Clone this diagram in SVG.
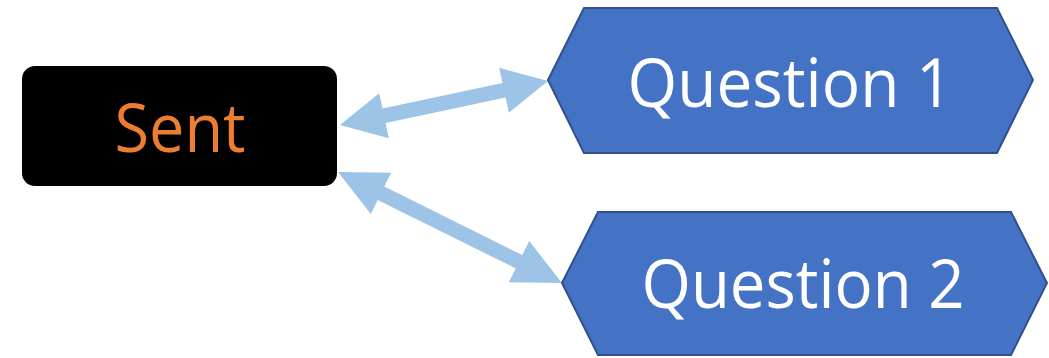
<svg xmlns="http://www.w3.org/2000/svg" width="1049" height="358" viewBox="0 0 1049 358">
<style>
.hex{fill:#4472C4;stroke:#2F528F;stroke-width:2}
.lbl{font-family:"Open Sans","Noto Sans","Liberation Sans",sans-serif;font-size:67px;text-anchor:middle}
.arrow{fill:#9DC3E6}
</style>
<rect width="1049" height="358" fill="#ffffff"/>
<g id="connectors">
<polygon class="arrow" points="340,125 388.8,138.2 385.6,123.0 505.6,97.6 508.8,112.8 548,81 499.2,67.8 502.5,82.9 382.5,108.4 379.2,93.2"/>
<polygon class="arrow" points="338,172 370.8,213.9 377.7,200.0 515.7,268.4 508.8,282.3 562,283 529.2,241.1 522.3,255.0 384.3,186.6 391.2,172.7"/>
</g>
<g id="sent">
<rect x="22" y="66" width="315" height="120" rx="13" ry="13" fill="#000000"/>
<text class="lbl" x="180" y="152" fill="#ED7D31" textLength="131" lengthAdjust="spacingAndGlyphs">Sent</text>
</g>
<g id="question1">
<polygon class="hex" points="548,80 584,8 997,8 1033,80 997,153 584,153"/>
<text class="lbl" x="790" y="107" fill="#ffffff" textLength="325" lengthAdjust="spacingAndGlyphs">Question 1</text>
</g>
<g id="question2">
<polygon class="hex" points="562,283 598,212 1011,212 1047,283 1011,355 598,355"/>
<text class="lbl" x="803" y="308" fill="#ffffff" textLength="323" lengthAdjust="spacingAndGlyphs">Question 2</text>
</g>
</svg>
